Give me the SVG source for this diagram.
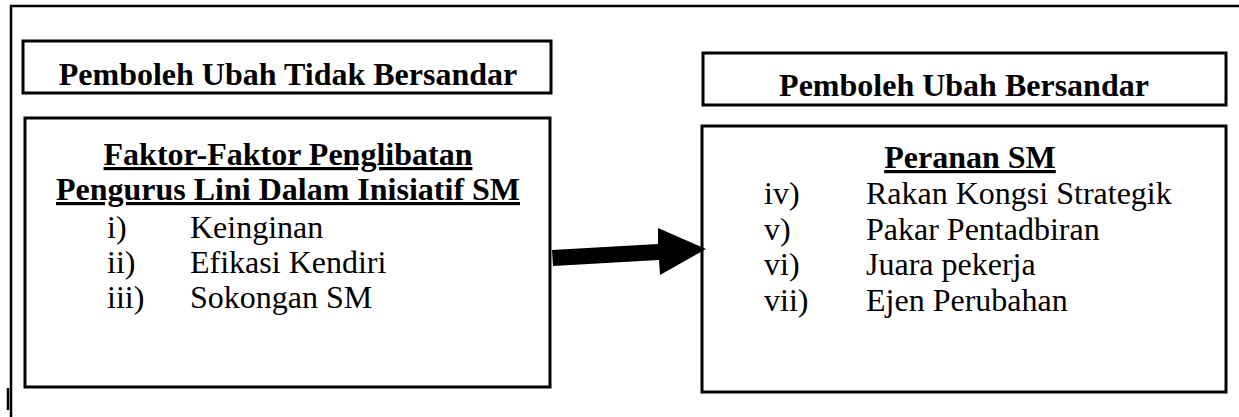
<svg xmlns="http://www.w3.org/2000/svg" width="1239" height="417" viewBox="0 0 1239 417">
<style>
.box{fill:#fff;stroke:#000;stroke-width:3}
.frame{fill:none;stroke:#000;stroke-width:2.5}
.b{font-family:'Liberation Serif','Times New Roman',Times,'DejaVu Serif',serif;font-size:32px;font-weight:bold;fill:#000}
.r{font-family:'Liberation Serif','Times New Roman',Times,'DejaVu Serif',serif;font-size:32px;fill:#000}
.u{text-decoration:underline}
</style>
<rect width="1239" height="417" fill="#fff"/>
<g id="frame">
<path class="frame" d="M11 417 V6 H1239"/>
<path d="M8 388 V410" stroke="#000" stroke-width="2.5"/>
</g>
<g id="iv-label">
<rect class="box" x="23" y="41" width="528" height="52"/>
<text class="b" x="288" y="85" text-anchor="middle">Pemboleh Ubah Tidak Bersandar</text>
</g>
<g id="iv-box">
<rect class="box" x="25" y="118" width="525" height="269"/>
<text class="b u" x="288" y="165" text-anchor="middle">Faktor-Faktor Penglibatan</text>
<text class="b u" x="288" y="200" text-anchor="middle">Pengurus Lini Dalam Inisiatif SM</text>
<text class="r" x="107" y="238">i)</text><text class="r" x="190" y="238">Keinginan</text>
<text class="r" x="107" y="273">ii)</text><text class="r" x="190" y="273">Efikasi Kendiri</text>
<text class="r" x="107" y="308">iii)</text><text class="r" x="190" y="308">Sokongan SM</text>
</g>
<g id="dv-label">
<rect class="box" x="703" y="53" width="523" height="52"/>
<text class="b" x="964" y="96" text-anchor="middle">Pemboleh Ubah Bersandar</text>
</g>
<g id="dv-box">
<rect class="box" x="702" y="126" width="524" height="266"/>
<text class="b u" x="970" y="168" text-anchor="middle">Peranan SM</text>
<text class="r" x="764" y="204">iv)</text><text class="r" x="866" y="204">Rakan Kongsi Strategik</text>
<text class="r" x="764" y="239.5">v)</text><text class="r" x="866" y="239.5">Pakar Pentadbiran</text>
<text class="r" x="764" y="275">vi)</text><text class="r" x="866" y="275">Juara pekerja</text>
<text class="r" x="764" y="310.5">vii)</text><text class="r" x="866" y="310.5">Ejen Perubahan</text>
</g>
<g id="connectors">
<path d="M552 250 L658 244 L658 228 L706 249 L660 275 L659 260 L553 266 Z" fill="#000"/>
</g>
</svg>
